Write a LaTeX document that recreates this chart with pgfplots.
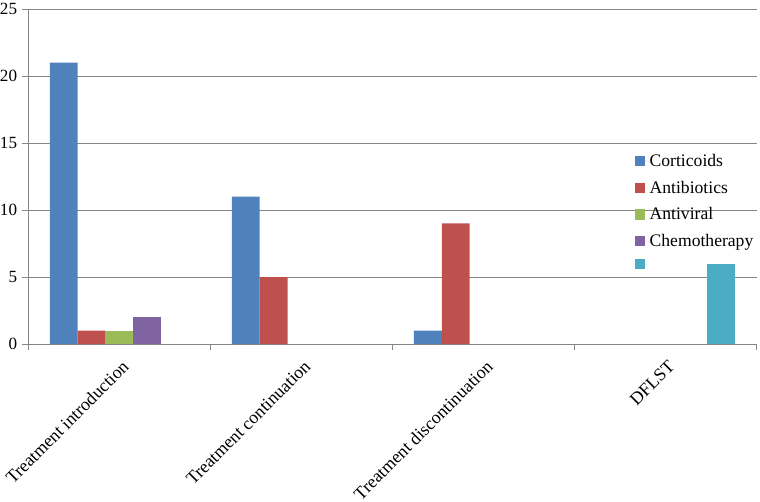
\documentclass[border=0pt]{standalone}
\usepackage{fontspec}
\setmainfont{Liberation Serif}
\usepackage{pgfplots}
\pgfplotsset{compat=1.18}
\definecolor{cblue}{HTML}{4F81BD}
\definecolor{cred}{HTML}{C0504D}
\definecolor{cgreen}{HTML}{9BBB59}
\definecolor{cpurple}{HTML}{8064A2}
\definecolor{ccyan}{HTML}{4BACC6}
\definecolor{axgray}{HTML}{868686}

\begin{document}
\begin{tikzpicture}
\begin{axis}[
  scale only axis, width=724pt, height=333pt,
  xmin=-0.5, xmax=3.5, ymin=0, ymax=25,
  ybar, bar width=0.153,
  ytick={0,5,...,25},
  ymajorgrids, grid style={axgray, line width=0.8pt},
  axis x line*=bottom, axis y line*=left,
  axis line style={axgray, line width=0.8pt},
  tick style={axgray, line width=0.8pt},
  tick align=outside, major tick length=6pt,
  xtick={-0.5,0.5,...,3.5}, xticklabels={},
  extra x ticks={0,1,2,3},
  extra x tick labels={Treatment introduction, Treatment continuation, Treatment discontinuation, DFLST},
  extra x tick style={major tick length=0pt,
    xticklabel style={yshift=-15pt, xshift=1.5pt, rotate=45, anchor=north east, inner sep=0pt,
      font=\fontsize{17.8}{21}\selectfont}},
  yticklabel style={font=\fontsize{17}{20}\selectfont, inner xsep=0pt, xshift=-5pt},
  /pgf/number format/assume math mode=true,
  legend style={at={(rel axis cs:0.828,0.58)}, anchor=north west, draw=none, fill=none,
    font=\fontsize{17.5}{20}\selectfont, row sep=9pt},
  legend cell align=left,
  legend image code/.code={\fill[#1] (0pt,-5pt) rectangle (10pt,5pt); \path (0pt,0pt) -- (13pt,0pt);},
]
\addplot[fill=cblue, draw=none, bar shift=-0.306] coordinates {(0,21) (1,11) (2,1)};
\addplot[fill=cred, draw=none, bar shift=-0.153] coordinates {(0,1) (1,5) (2,9)};
\addplot[fill=cgreen, draw=none, bar shift=0] coordinates {(0,1)};
\addplot[fill=cpurple, draw=none, bar shift=0.153] coordinates {(0,2)};
\addplot[fill=ccyan, draw=none, bar shift=0.306] coordinates {(3,6)};
\legend{Corticoids, Antibiotics, Antiviral, Chemotherapy, \mbox{}}
\end{axis}
\end{tikzpicture}
\end{document}
